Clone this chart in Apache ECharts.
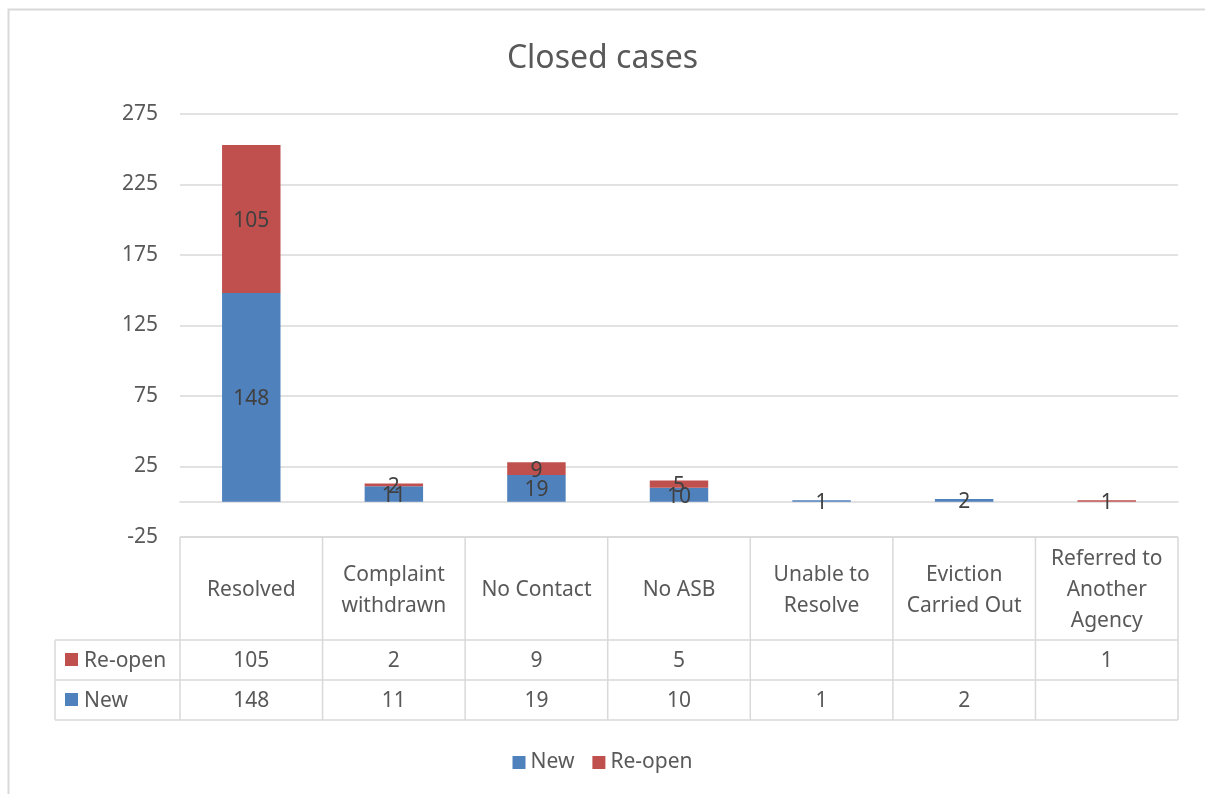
<!DOCTYPE html>
<html>
<head>
<meta charset="utf-8">
<script src="https://cdn.jsdelivr.net/npm/echarts@6/dist/echarts.min.js"></script>
<style>html,body{margin:0;padding:0;background:#fff}#c{width:1205px;height:794px}</style>
</head>
<body>
<div id="c"></div>
<script>
const categories = ['Resolved','Complaint\nwithdrawn','No Contact','No ASB','Unable to\nResolve','Eviction\nCarried Out','Referred to\nAnother\nAgency'];
const newVals = [148, 11, 19, 10, 1, 2, null];
const reopenVals = [105, 2, 9, 5, null, null, 1];
const seriesNames = ['New', 'Re-open'];
const colors = ['#4F81BD', '#C0504D'];
const yTicks = {min: -25, max: 275, interval: 50};

const FONT = 'Noto Sans';
const TXT = '#595959';
const GRID = '#d9d9d9';
const FS = 21;

const chart = echarts.init(document.getElementById('c'), null, {renderer: 'canvas'});
const option = {
  animation: false,
  backgroundColor: '#fff',
  title: {
    text: 'Closed cases', left: 'center', top: 38,
    textStyle: {fontFamily: FONT, fontSize: 32, fontWeight: 'normal', color: TXT}
  },
  legend: {
    data: seriesNames, bottom: 16, left: 'center', itemWidth: 13, itemHeight: 13, itemGap: 18,
    icon: 'rect',
    textStyle: {fontFamily: FONT, fontSize: FS, color: TXT}
  },
  grid: {left: 180, right: 27, top: 114, bottom: 257},
  xAxis: {
    type: 'category', data: categories,
    axisLine: {show: true, onZero: true, lineStyle: {color: GRID, width: 1.5}},
    axisTick: {show: false}, axisLabel: {show: false}
  },
  yAxis: {
    type: 'value', min: yTicks.min, max: yTicks.max, interval: yTicks.interval,
    axisLine: {show: false}, axisTick: {show: false},
    axisLabel: {fontFamily: FONT, fontSize: FS, color: TXT, margin: 22},
    splitLine: {lineStyle: {color: GRID, width: 1.5}}
  },
  series: [
    {name: seriesNames[0], type: 'bar', stack: 'a', data: newVals, barWidth: '41%',
     itemStyle: {color: colors[0]},
     label: {show: true, position: 'inside', offset: [0, 2], fontFamily: FONT, fontSize: FS, color: '#404040'}},
    {name: seriesNames[1], type: 'bar', stack: 'a', data: reopenVals, barWidth: '41%',
     itemStyle: {color: colors[1]},
     label: {show: true, position: 'inside', offset: [0, 2], fontFamily: FONT, fontSize: FS, color: '#404040'}}
  ]
};
chart.setOption(option);

function buildTable() {
  const n = categories.length;
  const c0 = chart.convertToPixel({xAxisIndex: 0}, 0);
  const c1 = chart.convertToPixel({xAxisIndex: 0}, 1);
  const bw = c1 - c0;
  const xLeft = c0 - bw / 2;
  const xRight = xLeft + bw * n;
  const yTop = chart.convertToPixel({yAxisIndex: 0}, yTicks.min);
  const headH = 103, rowH = 40;
  const rowHeadLeft = 55;
  const y1 = yTop + headH, y2 = y1 + rowH, y3 = y2 + rowH;
  const els = [];
  const line = (x1, yA, x2, yB) => els.push({type: 'line', shape: {x1, y1: yA, x2, y2: yB}, style: {stroke: GRID, lineWidth: 1.5}, silent: true});
  line(xLeft, yTop, xRight, yTop);
  line(rowHeadLeft, y1, xRight, y1);
  line(rowHeadLeft, y2, xRight, y2);
  line(rowHeadLeft, y3, xRight, y3);
  for (let i = 0; i <= n; i++) line(xLeft + bw * i, yTop, xLeft + bw * i, y3);
  line(rowHeadLeft, y1, rowHeadLeft, y3);
  const txt = (x, y, t) => els.push({type: 'text', x, y, silent: true,
    style: {text: t, fontFamily: FONT, fontSize: FS, fill: TXT, align: 'center', verticalAlign: 'middle', lineHeight: 31}});
  categories.forEach((c, i) => txt(xLeft + bw * (i + 0.5), yTop + headH / 2 + 2, c));
  const rows = [{name: seriesNames[1], vals: reopenVals, color: colors[1], y: y1 + rowH / 2},
                {name: seriesNames[0], vals: newVals, color: colors[0], y: y2 + rowH / 2}];
  rows.forEach(r => {
    els.push({type: 'rect', shape: {x: rowHeadLeft + 10, y: r.y - 7, width: 13, height: 13}, style: {fill: r.color}, silent: true});
    els.push({type: 'text', x: rowHeadLeft + 29, y: r.y + 1, silent: true,
      style: {text: r.name, fontFamily: FONT, fontSize: FS, fill: TXT, align: 'left', verticalAlign: 'middle'}});
    r.vals.forEach((v, i) => { if (v != null) txt(xLeft + bw * (i + 0.5), r.y + 1, String(v)); });
  });
  els.push({type: 'rect', shape: {x: 8.5, y: 9.5, width: 1300, height: 900}, style: {fill: 'none', stroke: GRID, lineWidth: 2}, silent: true});
  chart.setOption({graphic: {elements: els}});
}
buildTable();
</script>
</body>
</html>
